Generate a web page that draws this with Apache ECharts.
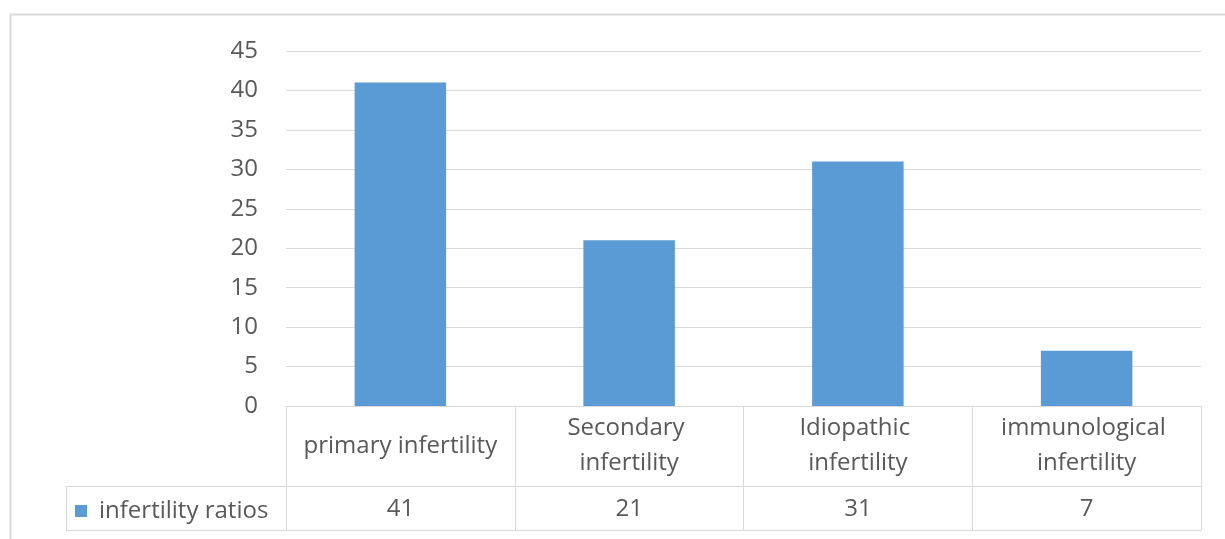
<!DOCTYPE html>
<html>
<head>
<meta charset="utf-8">
<script src="https://cdn.jsdelivr.net/npm/echarts@6/dist/echarts.min.js"></script>
<style>
  html, body { margin: 0; padding: 0; background: #fff; }
  #chart { width: 1225px; height: 539px; }
</style>
</head>
<body>
<div id="chart"></div>
<script>
const categories = ['primary infertility', 'Secondary infertility', 'Idiopathic infertility', 'immunological infertility'];
const ratios = [41, 21, 31, 7];
const seriesName = 'infertility ratios';
const yTicks = { min: 0, max: 45, interval: 5 };

const textColor = '#595959';
const lineColor = '#d9d9d9';
const barColor = '#5b9bd5';
const font = '"Open Sans", sans-serif';
const fontSize = 24;

// plot area (px)
const plot = { left: 286, right: 1201, top: 51, bottom: 406 };
const rowH = 80;      // category row of the data table
const valRowH = 44;   // value row
const legendLeft = 66;

const chart = echarts.init(document.getElementById('chart'));

const option = {
  animation: false,
  textStyle: { fontFamily: font },
  grid: {
    left: plot.left,
    right: 1225 - plot.right,
    top: plot.top,
    bottom: 539 - plot.bottom,
    containLabel: false
  },
  legend: {
    data: [seriesName],
    left: 75,
    top: plot.bottom + rowH + 13,
    padding: 0,
    icon: 'rect',
    itemWidth: 12,
    itemHeight: 12,
    textStyle: { color: textColor, fontSize: fontSize, fontFamily: font, padding: [0, 0, 0, 7] }
  },
  xAxis: [
    {
      type: 'category',
      data: categories,
      position: 'bottom',
      axisLine: { show: true, lineStyle: { color: lineColor, width: 1 } },
      axisTick: { show: true, interval: 0, length: rowH + valRowH, lineStyle: { color: lineColor } },
      axisLabel: {
        interval: 0,
        color: textColor,
        fontSize: fontSize,
        fontFamily: font,
        margin: rowH / 2,
        width: 202,
        overflow: 'break',
        lineHeight: 35,
        verticalAlign: 'middle'
      }
    },
    {
      type: 'category',
      data: ratios.map(String),
      position: 'bottom',
      offset: rowH,
      axisLine: { show: false },
      axisTick: { show: false },
      axisLabel: {
        interval: 0,
        color: textColor,
        fontSize: fontSize,
        fontFamily: font,
        margin: valRowH / 2 + 1,
        verticalAlign: 'middle'
      }
    }
  ],
  yAxis: {
    type: 'value',
    min: yTicks.min,
    max: yTicks.max,
    interval: yTicks.interval,
    axisLine: { show: false },
    axisTick: { show: false },
    axisLabel: { color: textColor, fontSize: fontSize, fontFamily: font, margin: 28 },
    splitLine: { lineStyle: { color: lineColor, width: 1 } }
  },
  series: [
    {
      name: seriesName,
      type: 'bar',
      data: ratios,
      barWidth: '40%',
      itemStyle: { color: barColor },
      emphasis: { disabled: true }
    }
  ],
  graphic: [
    // outer chart frame
    {
      type: 'rect',
      shape: { x: 10.5, y: 14.5, width: 1240, height: 560 },
      style: { fill: 'none', stroke: lineColor, lineWidth: 2 },
      silent: true
    },
    // data table horizontal lines
    {
      type: 'line',
      shape: { x1: legendLeft, y1: plot.bottom + rowH + 0.5, x2: plot.right, y2: plot.bottom + rowH + 0.5 },
      style: { stroke: lineColor, lineWidth: 1 }
    },
    {
      type: 'line',
      shape: { x1: legendLeft, y1: plot.bottom + rowH + valRowH + 0.5, x2: plot.right, y2: plot.bottom + rowH + valRowH + 0.5 },
      style: { stroke: lineColor, lineWidth: 1 }
    },
    {
      type: 'line',
      shape: { x1: legendLeft + 0.5, y1: plot.bottom + rowH, x2: legendLeft + 0.5, y2: plot.bottom + rowH + valRowH },
      style: { stroke: lineColor, lineWidth: 1 }
    }
  ]
};

chart.setOption(option);
window.addEventListener('resize', () => chart.resize());
</script>
</body>
</html>
